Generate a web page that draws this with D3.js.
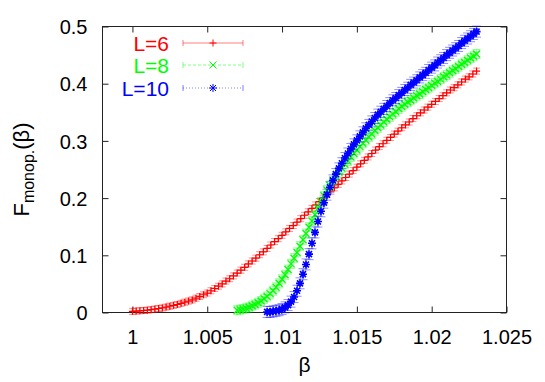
<!DOCTYPE html>
<html lang="en">
<head>
<meta charset="UTF-8">
<title>Monopole F(beta)</title>
<script src="https://cdn.jsdelivr.net/npm/d3@7"></script>
<style>
  body { margin: 0; background: #fff; }
  svg text { font-family: "Liberation Sans", Arial, sans-serif; }
</style>
</head>
<body>
<div id="chart"></div>
<script>
// axis ticks
const xTicks = [1, 1.005, 1.01, 1.015, 1.02, 1.025];
const xTickLabels = ["1", "1.005", "1.01", "1.015", "1.02", "1.025"];
const yTicks = [0, 0.1, 0.2, 0.3, 0.4, 0.5];
const yTickLabels = ["0", "0.1", "0.2", "0.3", "0.4", "0.5"];

// series: beta grid (start, step) and F values
const seriesNames = ["L=6", "L=8", "L=10"];
const seriesColors = ["#ff0000", "#00ff00", "#0000ff"];
const betaStart = [1.0, 1.007, 1.009];
const betaStep = [0.00025, 0.0002, 0.0002];

const fL6 = [
  0.002, 0.0025, 0.003, 0.0035, 0.004, 0.005, 0.006, 0.007, 0.008, 0.0095,
  0.011, 0.0125, 0.014, 0.016, 0.018, 0.020, 0.022, 0.025, 0.028, 0.031,
  0.034, 0.038, 0.042, 0.046, 0.050, 0.055, 0.059, 0.064, 0.069, 0.074,
  0.079, 0.085, 0.090, 0.095, 0.101, 0.106, 0.112, 0.118, 0.124, 0.129,
  0.135, 0.141, 0.147, 0.152, 0.158, 0.164, 0.170, 0.176, 0.182, 0.188,
  0.194, 0.200, 0.206, 0.212, 0.218, 0.224, 0.230, 0.236, 0.242, 0.248,
  0.254, 0.260, 0.266, 0.272, 0.278, 0.284, 0.290, 0.295, 0.301, 0.306,
  0.312, 0.317, 0.323, 0.328, 0.333, 0.339, 0.344, 0.349, 0.354, 0.359,
  0.364, 0.369, 0.374, 0.379, 0.384, 0.389, 0.393, 0.398, 0.403, 0.408,
  0.412, 0.417, 0.422
];

const fL8 = [
  0.004, 0.005, 0.006, 0.0075, 0.009, 0.012, 0.014, 0.017, 0.020, 0.024,
  0.028, 0.033, 0.038, 0.044, 0.051, 0.058, 0.066, 0.075, 0.085, 0.095,
  0.105, 0.116, 0.127, 0.138, 0.149, 0.160, 0.171, 0.182, 0.193, 0.204,
  0.214, 0.222, 0.230, 0.238, 0.245, 0.252, 0.259, 0.265, 0.272, 0.278,
  0.284, 0.290, 0.296, 0.301, 0.307, 0.312, 0.318, 0.323, 0.328, 0.333,
  0.338, 0.342, 0.347, 0.351, 0.356, 0.360, 0.364, 0.368, 0.371, 0.375,
  0.379, 0.382, 0.386, 0.390, 0.393, 0.397, 0.401, 0.404, 0.408, 0.412,
  0.415, 0.419, 0.423, 0.426, 0.430, 0.434, 0.437, 0.441, 0.445, 0.448,
  0.452
];

const fL10 = [
  0.001, 0.001, 0.002, 0.003, 0.004, 0.006, 0.009, 0.013, 0.019, 0.027,
  0.038, 0.051, 0.067, 0.084, 0.102, 0.121, 0.140, 0.159, 0.177, 0.192,
  0.206, 0.219, 0.231, 0.242, 0.252, 0.261, 0.270, 0.278, 0.286, 0.294,
  0.301, 0.308, 0.315, 0.322, 0.328, 0.334, 0.340, 0.346, 0.351, 0.356,
  0.361, 0.366, 0.371, 0.375, 0.380, 0.384, 0.389, 0.393, 0.398, 0.402,
  0.406, 0.411, 0.415, 0.419, 0.424, 0.428, 0.432, 0.437, 0.441, 0.445,
  0.450, 0.454, 0.458, 0.462, 0.466, 0.471, 0.475, 0.479, 0.483, 0.487,
  0.491
];

const seriesValues = [fL6, fL8, fL10];

const width = 545, height = 382;
const plotLeft = 102.5, plotRight = 506.5, plotTop = 26.5, plotBottom = 312.5;

const x = d3.scaleLinear().domain([0.998, 1.025]).range([plotLeft, plotRight]);
const y = d3.scaleLinear().domain([0, 0.5]).range([plotBottom, plotTop]);

const svg = d3.select("#chart").append("svg")
  .attr("width", width)
  .attr("height", height);

svg.append("rect").attr("width", width).attr("height", height).attr("fill", "#fff");

// axes, ticks pointing inward on all four sides
const tickLen = 6;
const fmtX = (d, i) => xTickLabels[i];
const fmtY = (d, i) => yTickLabels[i];

const gx = svg.append("g")
  .attr("transform", `translate(0,${plotBottom})`)
  .call(d3.axisBottom(x).tickValues(xTicks).tickSize(-tickLen).tickFormat(fmtX));
gx.selectAll("text").attr("y", 31).attr("dy", null);

svg.append("g")
  .attr("transform", `translate(0,${plotTop})`)
  .call(d3.axisTop(x).tickValues(xTicks).tickSize(-tickLen).tickFormat(""));

const gy = svg.append("g")
  .attr("transform", `translate(${plotLeft},0)`)
  .call(d3.axisLeft(y).tickValues(yTicks).tickSize(-tickLen).tickFormat(fmtY));
gy.selectAll("text").attr("x", -15).attr("dy", "0.36em");

svg.append("g")
  .attr("transform", `translate(${plotRight},0)`)
  .call(d3.axisRight(y).tickValues(yTicks).tickSize(-tickLen).tickFormat(""));

svg.selectAll(".domain").remove();
svg.selectAll(".tick line").attr("stroke", "#222");
svg.selectAll(".tick text")
  .attr("font-size", 20)
  .attr("font-family", "Liberation Sans, Arial, sans-serif")
  .attr("fill", "#000");

svg.append("rect")
  .attr("x", plotLeft).attr("y", plotTop)
  .attr("width", plotRight - plotLeft).attr("height", plotBottom - plotTop)
  .attr("fill", "none").attr("stroke", "#222").attr("stroke-width", 1);

// axis titles
svg.append("text")
  .attr("x", (plotLeft + plotRight) / 2)
  .attr("y", 372)
  .attr("text-anchor", "middle")
  .attr("font-size", 21)
  .text("β");

const yl = svg.append("text")
  .attr("transform", `translate(29,${(plotTop + plotBottom) / 2}) rotate(-90)`)
  .attr("text-anchor", "middle")
  .attr("font-size", 22);
yl.append("tspan").text("F");
yl.append("tspan").attr("font-size", 16).attr("dy", 5).text("monop.");
yl.append("tspan").attr("dy", -5).text("(β)");

// point markers: + , x , *
const markerPaths = [
  "M-3.5,0H3.5M0,-3.5V3.5",
  "M-3.5,-3.5L3.5,3.5M-3.5,3.5L3.5,-3.5",
  "M-4,0H4M0,-4V4M-3,-3L3,3M-3,3L3,-3"
];
const markerWidths = [1.2, 1.4, 1.6];
// error bar glyphs (stem + caps), half height grows with L
const errPaths = [
  "M0,-3V3M-3.5,-3H3.5M-3.5,3H3.5",
  "M0,-4.5V4.5M-4,-4.5H4M-4,4.5H4",
  "M0,-5.5V5.5M-4.5,-5.5H4.5M-4.5,5.5H4.5"
];

seriesValues.forEach((vals, s) => {
  const pts = vals.map((v, i) => ({ b: betaStart[s] + i * betaStep[s], f: v }));
  const g = svg.append("g");
  g.selectAll("path.err").data(pts).join("path")
    .attr("class", "err")
    .attr("transform", d => `translate(${x(d.b)},${y(d.f)})`)
    .attr("d", errPaths[s])
    .attr("fill", "none")
    .attr("stroke", seriesColors[s])
    .attr("stroke-opacity", 0.45)
    .attr("stroke-width", 1);
  g.selectAll("path.pt").data(pts).join("path")
    .attr("class", "pt")
    .attr("transform", d => `translate(${x(d.b)},${y(d.f)})`)
    .attr("d", markerPaths[s])
    .attr("fill", "none")
    .attr("stroke", seriesColors[s])
    .attr("stroke-width", markerWidths[s]);
});

// legend
const legendY = [43, 65, 88];
const dashes = [null, "3,2", "1,2"];
seriesNames.forEach((name, s) => {
  const ly = legendY[s];
  svg.append("text")
    .attr("x", 169).attr("y", ly).attr("dy", "0.36em")
    .attr("text-anchor", "end")
    .attr("font-size", 21)
    .attr("fill", seriesColors[s])
    .text(name);
  svg.append("line")
    .attr("x1", 183).attr("x2", 243).attr("y1", ly).attr("y2", ly)
    .attr("stroke", seriesColors[s]).attr("stroke-opacity", 0.5)
    .attr("stroke-dasharray", dashes[s]);
  [183, 243].forEach(cx => {
    svg.append("line")
      .attr("x1", cx).attr("x2", cx).attr("y1", ly - 3).attr("y2", ly + 3)
      .attr("stroke", seriesColors[s]).attr("stroke-opacity", 0.5);
  });
  svg.append("path")
    .attr("transform", `translate(213,${ly})`)
    .attr("d", markerPaths[s])
    .attr("fill", "none")
    .attr("stroke", seriesColors[s]);
});
</script>
</body>
</html>
